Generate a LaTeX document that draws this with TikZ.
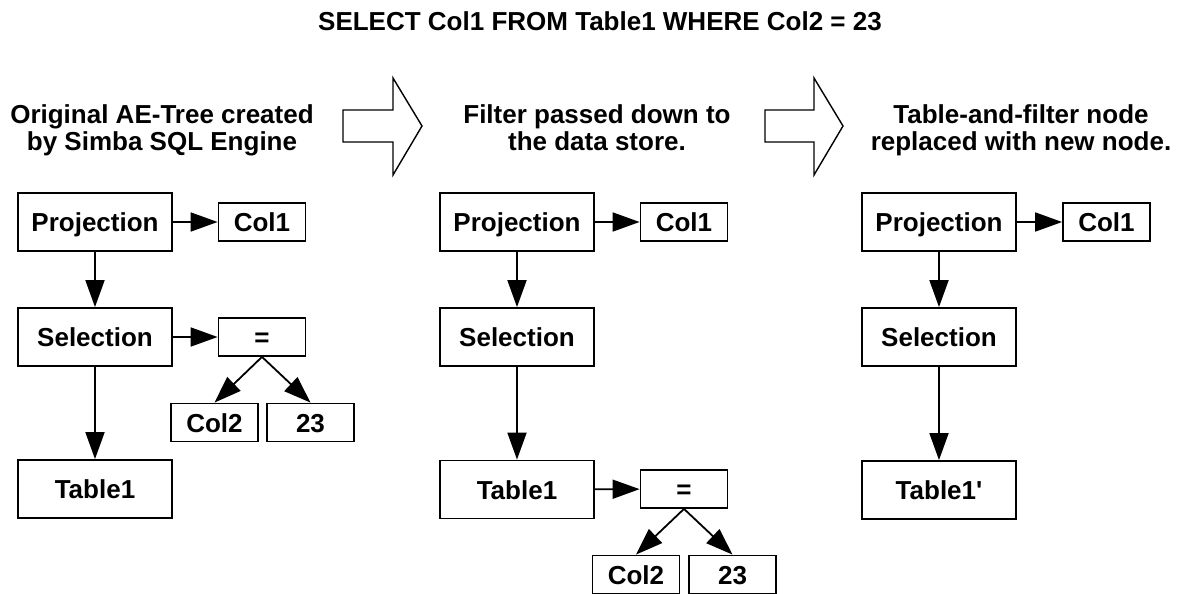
\documentclass[tikz,border=0pt]{standalone}
\usepackage{fontspec}
\setmainfont{Liberation Sans}
\newfontfamily\plainsans{Liberation Sans}
\usetikzlibrary{arrows.meta}
\begin{document}
\begin{tikzpicture}[x=1pt,y=-1pt,
  box/.style={draw, line width=1.8pt, inner sep=0pt, text height=19pt, text depth=0pt, font=\bfseries\fontsize{26}{28}\selectfont},
  big/.style={box, minimum width=154pt, minimum height=58pt},
  small/.style={box, minimum width=87pt, minimum height=38pt},
  conn/.style={line width=1.8pt, -{Triangle[length=27pt,width=19pt]}},
  hdr/.style={font=\bfseries\fontsize{26}{27}\selectfont, align=center, inner sep=0pt, anchor=base},
  blockarrow/.style={draw, fill=white, line width=1.4pt, line join=miter}]
\useasboundingbox (0,0) rectangle (1197,594);

% title
\node[hdr] (title) at (600,31) {SELECT Col1 FROM Table1 WHERE Col2 = 23};

% headers (base anchor = baseline of the last line)
\node[hdr] (h1) at (162,150) {Original AE-Tree created\\by Simba SQL Engine};
\node[hdr] (h2) at (597,150) {Filter passed down to\\the data store.};
\node[hdr] (h3) at (1021,150) {Table-and-filter node\\replaced with new node.};

% block arrows
\draw[blockarrow] (343,110) -- (393,110) -- (393,78) -- (422,126) -- (393,175) -- (393,142) -- (343,142) -- cycle;
\draw[blockarrow] (765,110) -- (814,110) -- (814,78) -- (843,126) -- (814,175) -- (814,142) -- (765,142) -- cycle;

% panel 1
\node[big] (p1) at (95,222) {Projection};
\node[small] (c1) at (262,222) {Col1};
\node[big] (s1) at (95,337) {Selection};
\node[small] (e1) at (262,337) {=};
\node[small] (a1) at (214.5,422.5) {Col2};
\node[small] (b1) at (310.5,422.5) {23};
\node[big] (t1) at (95,489) {Table1};
\draw[conn] (p1) -- (c1);
\draw[conn] (p1) -- (s1);
\draw[conn] (s1) -- (e1);
\draw[conn] (s1) -- (t1);
\draw[conn] (e1.south) -- (a1.north);
\draw[conn] (e1.south) -- (b1.north);

% panel 2
\node[big] (p2) at (517,222) {Projection};
\node[small] (c2) at (684,222) {Col1};
\node[big] (s2) at (517,337) {Selection};
\node[big] (t2) at (517,489.5) {Table1};
\node[small] (e2) at (684,489) {=};
\node[small] (a2) at (636,574.5) {Col2};
\node[small] (b2) at (732.5,574.5) {23};
\draw[conn] (p2) -- (c2);
\draw[conn] (p2) -- (s2);
\draw[conn] (s2) -- (t2);
\draw[conn] (t2) -- (e2);
\draw[conn] (e2.south) -- (a2.north);
\draw[conn] (e2.south) -- (b2.north);

% panel 3
\node[big] (p3) at (939,222) {Projection};
\node[small] (c3) at (1106.5,222) {Col1};
\node[big] (s3) at (939,337) {Selection};
\node[big] (t3) at (939,490) {\plainsans\bfseries Table1'};
\draw[conn] (p3) -- (c3);
\draw[conn] (p3) -- (s3);
\draw[conn] (s3) -- (t3);
\end{tikzpicture}
\end{document}
